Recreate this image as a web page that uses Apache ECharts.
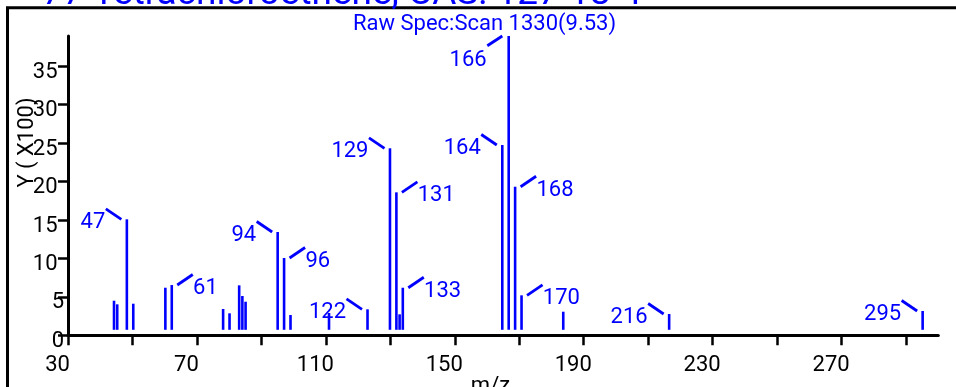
<!DOCTYPE html>
<html>
<head>
<meta charset="utf-8">
<script src="https://cdn.jsdelivr.net/npm/echarts@6/dist/echarts.min.js"></script>
<style>
html,body{margin:0;padding:0;background:#fff;}
#chart{width:956px;height:387px;}
</style>
</head>
<body>
<div id="chart"></div>
<script>
// ---- data (m/z, intensity in units of 100) ----
const mz        = [43, 44, 47, 49, 59, 61, 77, 79, 82, 83, 84, 94, 96, 98, 110, 122, 129, 131, 132, 133, 164, 166, 168, 170, 183, 216, 295];
const intensity = [4.50, 4.03, 15.09, 4.11, 6.19, 6.54, 3.42, 2.86, 6.50, 5.11, 4.37, 13.44, 10.06, 2.64, 2.9, 3.38, 24.33, 18.6, 2.73, 6.19, 24.76, 38.94, 19.33, 5.2, 3.07, 2.77, 3.16];
const labeledMz = [47, 61, 94, 96, 122, 129, 131, 133, 164, 166, 168, 170, 216, 295];
const xTickValues  = [30, 50, 70, 90, 110, 130, 150, 170, 190, 210, 230, 250, 270, 290];
const xLabelValues = [30, 70, 110, 150, 190, 230, 270];
const yTickValues  = [0, 5, 10, 15, 20, 25, 30, 35];
const titleText    = '77 Tetrachloroethene, CAS: 127-18-4';
const subtitleText = 'Raw Spec:Scan 1330(9.53)';
const xName = 'm/z';
const yName = 'Y ( X100)';

// ---- styles ----
const BLUE = '#0000ff';
const FONT = 'Roboto';
const FS = 22;
const labelPlacement = {47:'left',61:'right',94:'left',96:'right',122:'left',129:'left',131:'right',133:'right',164:'left',166:'below',168:'right',170:'right',216:'left',295:'left'};

const chart = echarts.init(document.getElementById('chart'), null, {renderer:'canvas'});

function renderItem(params, api) {
  const m = api.value(0), v = api.value(1);
  const top = api.coord([m, v]);
  const base = api.coord([m, 0]);
  const x = top[0], y = top[1];
  const children = [{
    type:'line',
    shape:{x1:x, y1:base[1]-5.5, x2:x, y2:y},
    style:{stroke:BLUE, lineWidth:2.6}
  }];
  if (labeledMz.indexOf(m) >= 0) {
    const p = labelPlacement[m];
    let lx1, ly1, lx2, ly2, tx, ty, al;
    if (p === 'left') { lx1=x-5.5; ly1=y; lx2=x-21; ly2=y-10.5; tx=x-21.5; ty=y+3.4; al='right'; }
    else if (p === 'right') { lx1=x+5.5; ly1=y; lx2=x+21; ly2=y-10.5; tx=x+21.3; ty=y+3.4; al='left'; }
    else { lx1=x-6.4; ly1=y; lx2=x-21.4; ly2=y+9.7; tx=x-22; ty=y+24.5; al='right'; }
    children.push({type:'line', shape:{x1:lx1,y1:ly1,x2:lx2,y2:ly2}, style:{stroke:BLUE, lineWidth:2.8}});
    children.push({type:'text', style:{text:String(m), x:tx, y:ty, fill:BLUE, fontSize:FS, fontFamily:FONT,
      align:al, textAlign:al, verticalAlign:'middle', textVerticalAlign:'middle'}});
  }
  return {type:'group', children};
}

const option = {
  animation:false,
  backgroundColor:'#fff',
  grid:{left:68, right:17.7, top:36, bottom:51.7, containLabel:false},
  xAxis:[{
    type:'value', min:30, max:300, interval:20,
    axisLine:{show:true, onZero:false, lineStyle:{color:'#000', width:3}},
    axisTick:{show:true, length:10, customValues:xTickValues, lineStyle:{color:'#000', width:2.5}},
    axisLabel:{show:true, customValues:xLabelValues, color:'#000', fontSize:FS, fontFamily:FONT, margin:19.5, padding:[0,21,0,0]},
    splitLine:{show:false}
  },{
    type:'value', show:false, position:'bottom', min:28.66, max:299.88,
    splitLine:{show:false}
  }],
  yAxis:{
    type:'value', min:0, max:38.94,
    axisLine:{show:true, onZero:false, lineStyle:{color:'#000', width:3}},
    axisTick:{show:true, length:10, customValues:yTickValues, lineStyle:{color:'#000', width:2.5}},
    axisLabel:{show:true, customValues:yTickValues, margin:4, padding:[12,0,0,0],
      color:'#000', fontSize:FS, fontFamily:FONT,
      formatter:function(v){ return v >= 10 ? '{w|' + v + '}' : '{n|' + v + '}'; },
      rich:{
        w:{fontSize:FS, fontFamily:FONT, color:'#000', padding:[0,6.5,0,0]},
        n:{fontSize:FS, fontFamily:FONT, color:'#000'}
      }},
    splitLine:{show:false}
  },
  graphic:{elements:[
    {type:'rect', shape:{x:7.5, y:7.8, width:1000, height:500}, style:{fill:'none', stroke:'#000', lineWidth:3}, z:0},
    {type:'text', x:42, y:-5.5, style:{text:titleText, fill:BLUE, font:'37px Roboto', align:'left', textAlign:'left', verticalAlign:'middle', textVerticalAlign:'middle'}, z:10},
    {type:'text', x:353, y:24.2, style:{text:subtitleText, fill:BLUE, font:FS+'px Roboto', align:'left', textAlign:'left', verticalAlign:'middle', textVerticalAlign:'middle'}, z:10},
    {type:'text', x:27, y:142.5, rotation:Math.PI/2, style:{text:yName, fill:'#000', font:FS+'px Roboto', align:'center', textAlign:'center', verticalAlign:'middle', textVerticalAlign:'middle'}, z:10},
    {type:'text', x:490.5, y:386, style:{text:xName, fill:'#000', font:FS+'px Roboto', align:'center', textAlign:'center', verticalAlign:'middle', textVerticalAlign:'middle'}, z:10}
  ]},
  series:[{
    type:'custom',
    xAxisIndex:1, yAxisIndex:0,
    renderItem:renderItem,
    encode:{x:0, y:1},
    clip:false,
    silent:true,
    data: mz.map(function(m, i){ return [m, intensity[i]]; })
  }]
};
chart.setOption(option);
</script>
</body>
</html>
